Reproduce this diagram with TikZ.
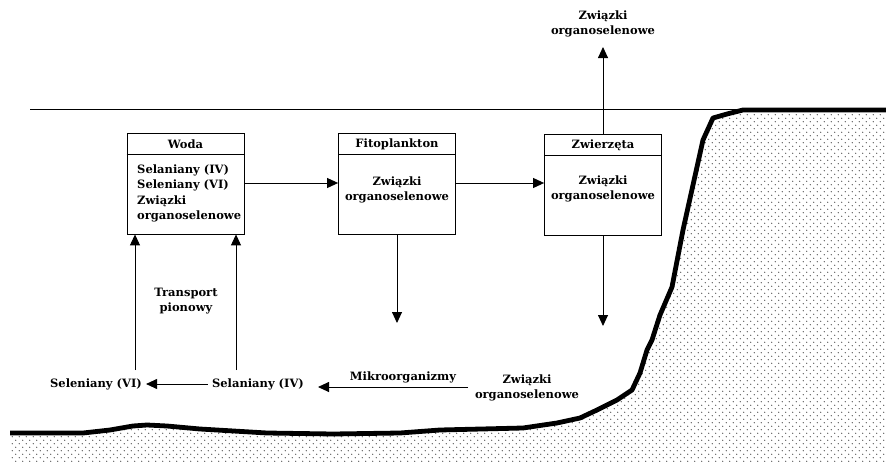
\documentclass[tikz,border=0pt]{standalone}
\usepackage{fontspec}
\setmainfont{DejaVu Serif}
\usetikzlibrary{arrows.meta,patterns}
\pgfdeclarepatternformonly{seadots}{\pgfpoint{-1pt}{-1pt}}{\pgfpoint{8pt}{8pt}}{\pgfpoint{7pt}{7pt}}{%
  \pgfpathcircle{\pgfpoint{1.75pt}{1.75pt}}{0.65pt}%
  \pgfpathcircle{\pgfpoint{5.25pt}{5.25pt}}{0.65pt}%
  \pgfusepath{fill}}
\begin{document}
\begin{tikzpicture}[x=1pt,y=-1pt,
  lbl/.style={font=\fontsize{11.5}{15.5}\selectfont\bfseries, inner sep=0pt, align=center},
  boxframe/.style={draw, line width=0.8pt, minimum width=117pt, minimum height=101pt, inner sep=0pt},
  flow/.style={line width=0.9pt, -{Triangle[length=11pt,width=10pt]}},
  bed/.style={line width=4.8pt, line join=round},
  ]
\useasboundingbox (0,0) rectangle (886,463);
% sea bed
\fill[pattern=seadots, pattern color=black!75] plot coordinates {(10,433) (83,433) (110,430) (133,426) (147,425) (167,426) (200,429) (267,433) (333,434) (400,433) (440,430) (523,428) (557,423) (580,418) (597,410) (617,400) (632,390) (640,373) (647,350) (652,340) (660,315) (672,287) (683,230) (697,167) (703,140) (713,118) (727,114) (743,110) (793,110) (886,110)} -- (886,463) -- (10,463) -- cycle;
\draw[bed] plot coordinates {(10,433) (83,433) (110,430) (133,426) (147,425) (167,426) (200,429) (267,433) (333,434) (400,433) (440,430) (523,428) (557,423) (580,418) (597,410) (617,400) (632,390) (640,373) (647,350) (652,340) (660,315) (672,287) (683,230) (697,167) (703,140) (713,118) (727,114) (743,110) (793,110) (886,110)};
% water surface
\draw[line width=0.6pt] (30,109) -- (745,109);

% boxes
\node[boxframe] (woda) at (185.5,183.5) {};
\node[boxframe] (fito) at (397,183.5) {};
\node[boxframe] (zw) at (603,184.5) {};
\draw[line width=0.8pt] (woda.west |- 0,154) -- (woda.east |- 0,154);
\draw[line width=0.8pt] (fito.west |- 0,154) -- (fito.east |- 0,154);
\draw[line width=0.8pt] (zw.west |- 0,155) -- (zw.east |- 0,155);
\node[lbl] (wodat) at (185.5,144) {Woda};
\node[lbl] (fitot) at (397,144) {Fitoplankton};
\node[lbl] (zwt) at (603,145) {Zwierzęta};
\node[lbl, align=left, anchor=west] (wodab) at (137,193.5) {Selaniany (IV)\\Seleniany (VI)\\Związki\\organoselenowe};
\node[lbl] (fitob) at (397,190) {Związki\\organoselenowe};
\node[lbl] (zwb) at (603,189) {Związki\\organoselenowe};

% outside labels
\node[lbl] (top) at (603,24) {Związki\\organoselenowe};
\node[lbl] (transp) at (186,301) {Transport\\pionowy};
\node[lbl, inner xsep=4pt] (selvi) at (96,384) {Seleniany (VI)};
\node[lbl, inner xsep=4pt] (seliv) at (258,384) {Selaniany (IV)};
\node[lbl] (mikro) at (403,377) {Mikroorganizmy};
\node[lbl] (zorg) at (527,388) {Związki\\organoselenowe};

\coordinate (tipA) at (603,47);
\coordinate (tipB) at (397,323);
\coordinate (tipC) at (603,326);
\coordinate (upL) at (135,370);
\coordinate (upR) at (236,370);
\coordinate (mstart) at (468,387);
\coordinate (mend) at (318,387);

% connectors
\draw[flow] (woda.east |- 0,183) -- (fito.west |- 0,183);
\draw[flow] (fito.east |- 0,183) -- (zw.west |- 0,183);
\draw[flow] (zw.north) -- (tipA);
\draw[flow] (fito.south) -- (tipB);
\draw[flow] (zw.south) -- (tipC);
\draw[flow] (upL) -- (upL |- woda.south);
\draw[flow] (upR) -- (upR |- woda.south);
\draw[flow] (seliv.west) -- (selvi.east);
\draw[flow] (mstart) -- (mend);
\end{tikzpicture}
\end{document}
